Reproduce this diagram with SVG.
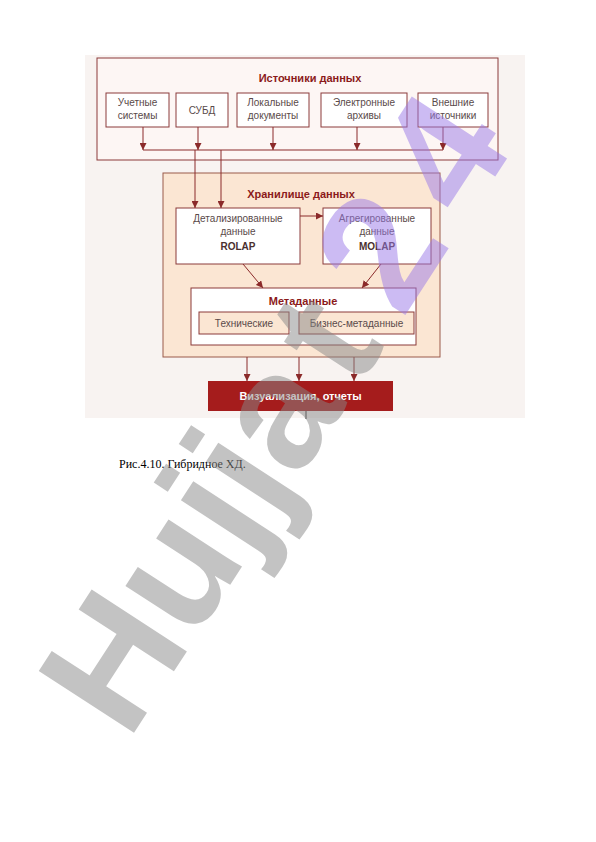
<svg xmlns="http://www.w3.org/2000/svg" width="596" height="842" viewBox="0 0 596 842">
<style>
.bx{fill:#ffffff;stroke:#8b3a3a;stroke-width:1}
.t{font-family:"Liberation Sans",Arial,sans-serif;font-size:10px;fill:#5a4a4a;text-anchor:middle}
.tb{font-family:"Liberation Sans",Arial,sans-serif;font-size:11px;font-weight:bold;fill:#8b1a1a;text-anchor:middle}
.ln{stroke:#8b2a2a;stroke-width:1;fill:none}
.ar{stroke:#8b2a2a;stroke-width:1;fill:none;marker-end:url(#ah)}
</style>
<defs>
<marker id="ah" viewBox="0 0 10 10" refX="10" refY="5" markerWidth="7" markerHeight="7" orient="auto" markerUnits="userSpaceOnUse">
<path d="M0,0 L10,5 L0,10 z" fill="#8b2a2a"/>
</marker>
</defs>
<rect x="85" y="55" width="440" height="363" fill="#f8f3f1"/>
<g id="sources">
<rect x="97" y="58" width="401" height="102" fill="#fdf6f4" stroke="#8b3a3a"/>
<text class="tb" x="310" y="82">Источники данных</text>
</g>
<g id="src1"><rect class="bx" x="106" y="93" width="63" height="34"/><text class="t" x="137.5" y="106">Учетные</text><text class="t" x="137.5" y="119">системы</text></g>
<g id="src2"><rect class="bx" x="176" y="93" width="52" height="34"/><text class="t" x="202" y="114">СУБД</text></g>
<g id="src3"><rect class="bx" x="237" y="93" width="72" height="34"/><text class="t" x="273" y="106">Локальные</text><text class="t" x="273" y="119">документы</text></g>
<g id="src4"><rect class="bx" x="321" y="93" width="86" height="34"/><text class="t" x="364" y="106">Электронные</text><text class="t" x="364" y="119">архивы</text></g>
<g id="src5"><rect class="bx" x="418" y="93" width="70" height="34"/><text class="t" x="453" y="106">Внешние</text><text class="t" x="453" y="119">источники</text></g>
<g id="warehouse">
<rect x="163" y="173" width="277" height="184" fill="#fbe6d3" stroke="#9a5a4a"/>
<text class="tb" x="301" y="198">Хранилище данных</text>
</g>
<g id="detail"><rect class="bx" x="176" y="208" width="124" height="56"/><text class="t" x="238" y="222">Детализированные</text><text class="t" x="238" y="235">данные</text><text class="t" x="238" y="250" style="font-weight:bold;fill:#4a3030">ROLAP</text></g>
<g id="aggr"><rect class="bx" x="323" y="208" width="108" height="56"/><text class="t" x="377" y="222">Агрегированные</text><text class="t" x="377" y="235">данные</text><text class="t" x="377" y="250" style="font-weight:bold;fill:#4a3030">MOLAP</text></g>
<g id="meta">
<rect class="bx" x="191" y="288" width="225" height="57"/>
<text class="tb" x="303" y="305">Метаданные</text>
</g>
<g id="tech"><rect x="199" y="312" width="90" height="22" fill="#fbe6d3" stroke="#8b3a3a"/><text class="t" x="244" y="327">Технические</text></g>
<g id="biz"><rect x="299" y="312" width="115" height="22" fill="#fbe6d3" stroke="#8b3a3a"/><text class="t" x="356.5" y="327">Бизнес-метаданные</text></g>
<g id="viz"><rect x="208" y="381" width="185" height="30" fill="#a51c1c"/><text x="300.5" y="400" style="font-family:'Liberation Sans',Arial,sans-serif;font-size:11px;font-weight:bold;fill:#ffffff;text-anchor:middle">Визуализация, отчеты</text></g>
<g id="connectors">
<line class="ar" x1="143" y1="127" x2="143" y2="150"/>
<line class="ar" x1="198" y1="127" x2="198" y2="150"/>
<line class="ar" x1="273" y1="127" x2="273" y2="150"/>
<line class="ar" x1="357" y1="127" x2="357" y2="150"/>
<line class="ar" x1="443" y1="127" x2="443" y2="150"/>
<line class="ln" x1="143" y1="150" x2="443" y2="150"/>
<line class="ar" x1="195" y1="150" x2="195" y2="208"/>
<line class="ar" x1="221" y1="150" x2="221" y2="208"/>
<line class="ar" x1="300" y1="216" x2="323" y2="216"/>
<line class="ar" x1="243" y1="264" x2="263" y2="288"/>
<line class="ar" x1="381" y1="264" x2="362" y2="288"/>
<line class="ar" x1="247" y1="357" x2="247" y2="381"/>
<line class="ar" x1="299" y1="357" x2="299" y2="381"/>
<line class="ar" x1="354" y1="357" x2="354" y2="381"/>
<line x1="306" y1="411" x2="306" y2="419" stroke="#333" stroke-width="1"/>
</g>
<text x="119" y="468" style="font-family:'Liberation Serif','Times New Roman',serif;font-size:12px;fill:#000">Рис.4.10. Гибридное ХД.</text>
<text transform="translate(128,742) rotate(-57)" style="font-family:'Liberation Sans',Arial,sans-serif;font-size:165px;font-weight:bold;fill:#888888;opacity:0.5">Hujja<tspan dx="15">t</tspan><tspan dx="30" style="fill:#9a7ae8">2</tspan><tspan dx="25" style="fill:#9a7ae8">4</tspan></text>
</svg>
